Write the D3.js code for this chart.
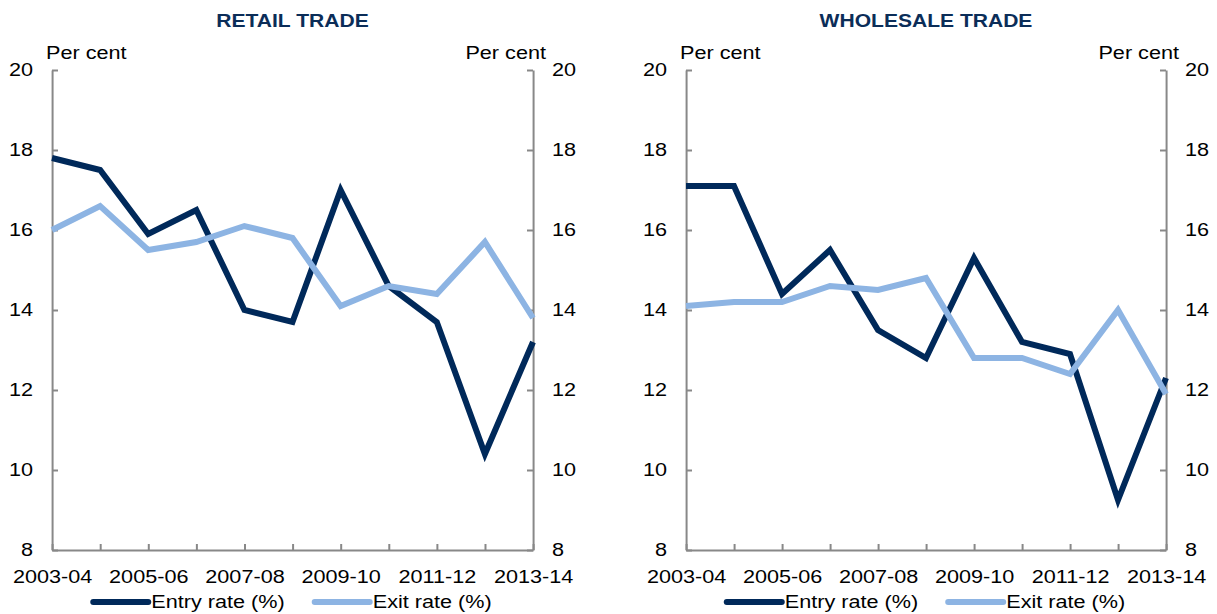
<!DOCTYPE html>
<html>
<head>
<meta charset="utf-8">
<script src="https://cdn.jsdelivr.net/npm/d3@7"></script>
<style>
  body { margin: 0; background: #fff; }
  text { font-family: "Liberation Sans", Arial, sans-serif; }
</style>
</head>
<body>
<div id="chart"></div>
<script>
// data
var years = ['2003-04', '2004-05', '2005-06', '2006-07', '2007-08', '2008-09',
             '2009-10', '2010-11', '2011-12', '2012-13', '2013-14'];
var yTicks = [8, 10, 12, 14, 16, 18, 20];

var retailEntry = [17.8, 17.5, 15.9, 16.5, 14.0, 13.7, 17.0, 14.6, 13.7, 10.4, 13.2];
var retailExit = [16.0, 16.6, 15.5, 15.7, 16.1, 15.8, 14.1, 14.6, 14.4, 15.7, 13.8];
var wholesaleEntry = [17.1, 17.1, 14.4, 15.5, 13.5, 12.8, 15.3, 13.2, 12.9, 9.25, 12.3];
var wholesaleExit = [14.1, 14.2, 14.2, 14.6, 14.5, 14.8, 12.8, 12.8, 12.4, 14.0, 11.9];

var seriesNames = ['Entry rate (%)', 'Exit rate (%)'];
var seriesColors = ['#00295a', '#8db4e3'];

// the original is stretched horizontally; draw in narrower logical units
var K = 1.17;
var W = 1217 / K, H = 614;

var panels = [
  { title: 'RETAIL TRADE', entry: retailEntry, exit: retailExit, x0: 52, x1: 533 },
  { title: 'WHOLESALE TRADE', entry: wholesaleEntry, exit: wholesaleExit, x0: 686, x1: 1166 }
];

var svg = d3.select('#chart')
  .append('svg')
  .attr('width', 1217)
  .attr('height', H)
  .attr('viewBox', '0 0 ' + W + ' ' + H)
  .attr('preserveAspectRatio', 'none');

var y = d3.scaleLinear().domain([8, 20]).range([550, 70]);
var axisGrey = '#888888';

panels.forEach(function(p) {
  var g = svg.append('g');
  var x = d3.scalePoint().domain(years).range([p.x0 / K, p.x1 / K]);
  var cx = (p.x0 + p.x1) / 2 / K;

  /* title */
  g.append('text')
    .attr('x', cx)
    .attr('y', 27)
    .attr('text-anchor', 'middle')
    .style('font-size', '18px')
    .style('font-weight', 'bold')
    .style('fill', '#0b2d58')
    .text(p.title);

  /* axes */
  var left = g.append('g')
    .attr('transform', 'translate(' + p.x0 / K + ',0)')
    .call(d3.axisLeft(y).tickValues(yTicks).tickSizeInner(-6 / K).tickSizeOuter(0).tickPadding(19 / K));

  var right = g.append('g')
    .attr('transform', 'translate(' + p.x1 / K + ',0)')
    .call(d3.axisRight(y).tickValues(yTicks).tickSizeInner(-6 / K).tickSizeOuter(0).tickPadding(19 / K));

  var bottom = g.append('g')
    .attr('transform', 'translate(0,550)')
    .call(d3.axisBottom(x).tickSizeInner(-6).tickSizeOuter(0).tickPadding(20)
      .tickFormat(function(d, i) { return i % 2 === 0 ? d : ''; }));

  [left, right, bottom].forEach(function(a) {
    a.selectAll('path, line')
      .attr('stroke', axisGrey)
      .attr('stroke-width', 2)
      .attr('vector-effect', 'non-scaling-stroke');
    a.selectAll('text')
      .attr('fill', '#000')
      .style('font-size', '18.5px');
    a.attr('font-family', null);
  });

  g.append('text')
    .attr('x', (p.x0 - 6) / K)
    .attr('y', 59)
    .style('font-size', '18.5px')
    .text('Per cent');

  g.append('text')
    .attr('x', (p.x1 + 13) / K)
    .attr('y', 59)
    .attr('text-anchor', 'end')
    .style('font-size', '18.5px')
    .text('Per cent');

  /* lines */
  var line = d3.line()
    .x(function(d, i) { return x(years[i]); })
    .y(function(d) { return y(d); });

  [p.entry, p.exit].forEach(function(vals, si) {
    g.append('path')
      .attr('d', line(vals))
      .attr('fill', 'none')
      .attr('stroke', seriesColors[si])
      .attr('stroke-width', 6)
      .attr('stroke-linejoin', 'miter')
      .attr('vector-effect', 'non-scaling-stroke');
  });

  /* legend */
  var leg = g.append('g');
  var pos = 0;
  seriesNames.forEach(function(name, si) {
    if (si > 0) pos += 30 / K;
    leg.append('line')
      .attr('x1', pos)
      .attr('x2', pos + 55 / K)
      .attr('y1', 602)
      .attr('y2', 602)
      .attr('stroke', seriesColors[si])
      .attr('stroke-width', 6)
      .attr('stroke-linecap', 'round')
      .attr('vector-effect', 'non-scaling-stroke');
    pos += 55 / K + 3 / K;
    var t = leg.append('text')
      .attr('x', pos)
      .attr('y', 608)
      .style('font-size', '18.5px')
      .text(name);
    pos += t.node().getComputedTextLength();
  });
  leg.attr('transform', 'translate(' + (cx - pos / 2) + ',0)');
});
</script>
</body>
</html>
